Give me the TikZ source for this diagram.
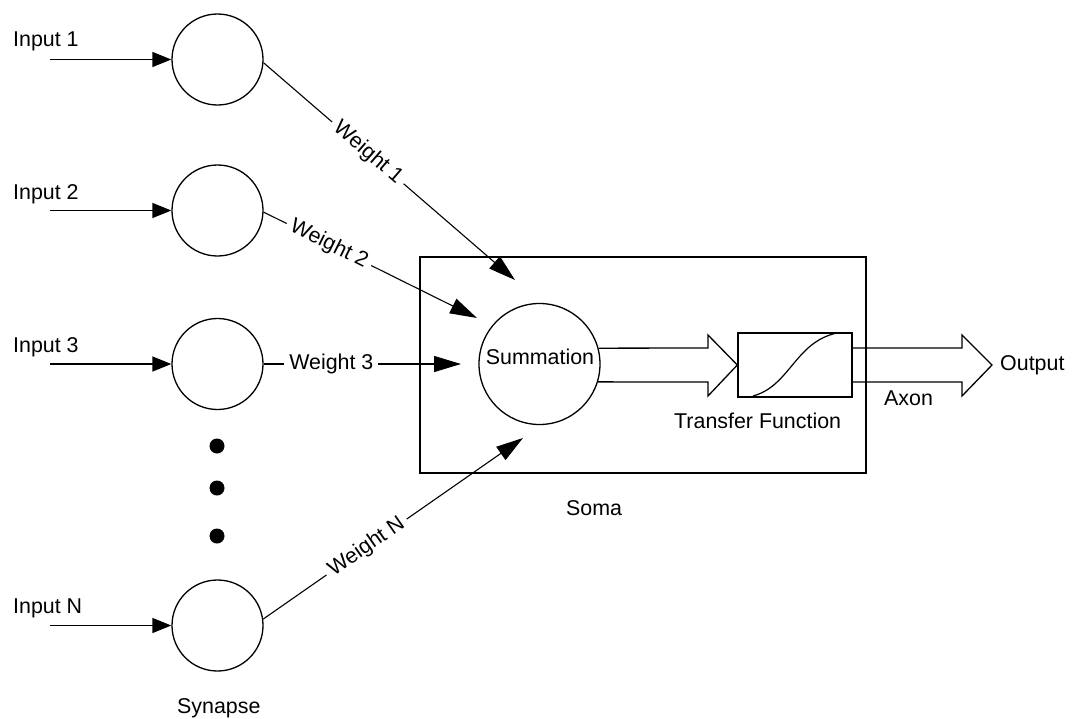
\documentclass[tikz,border=0pt]{standalone}
\usepackage{fontspec}
\setmainfont{Liberation Sans}
\usetikzlibrary{arrows.meta}
\begin{document}
\begin{tikzpicture}[x=1pt,y=-1pt,
  every node/.style={font=\fontsize{21.4}{25}\selectfont},
  syn/.style={circle,draw,line width=1.3pt,minimum size=91pt,inner sep=0pt},
  inarrow/.style={line width=1.3pt,-{Triangle[length=19pt,width=15pt]}},
  warrow/.style={line width=1.1pt,-{Triangle[length=27pt,width=16pt]}},
  wlabel/.style={sloped,fill=white,inner xsep=5pt,inner ysep=2pt},
  lbl/.style={anchor=base west,inner sep=0pt},
  boxline/.style={line width=1.4pt},
  dot/.style={fill=black}]
\useasboundingbox[fill=white] (0,0) rectangle (1074,718);

% synapses
\node[syn] (s1) at (217.5,59.5) {};
\node[syn] (s2) at (217.5,210.5) {};
\node[syn] (s3) at (217.5,364) {};
\node[syn] (sN) at (217.5,625.5) {};

% dots
\fill[dot] (217,446) circle (7.5pt);
\fill[dot] (217,488) circle (7.5pt);
\fill[dot] (217,536) circle (7.5pt);

% input labels
\node[lbl] (l1) at (13,46) {Input 1};
\node[lbl] (l2) at (13,199) {Input 2};
\node[lbl] (l3) at (13,352) {Input 3};
\node[lbl] (lN) at (13,613) {Input N};

% input arrows
\coordinate (i1) at (50,59.5);
\coordinate (i2) at (50,210.5);
\coordinate (i3) at (50,364);
\coordinate (iN) at (50,625.5);
\draw[inarrow] (i1) -- (s1);
\draw[inarrow] (i2) -- (s2);
\draw[inarrow] (i3) -- (s3);
\draw[inarrow] (iN) -- (sN);

% soma
\node[draw,boxline,minimum width=446pt,minimum height=216pt,inner sep=0pt] (soma) at (643,365) {};
\node[circle,draw,line width=1.3pt,minimum size=121pt,inner sep=0pt] (sum) at (539.5,364) {};
\node[anchor=base,inner sep=0pt] (sumtext) at (540,364) {Summation};

% transfer function
\node[draw,boxline,minimum width=114pt,minimum height=64pt,inner sep=0pt] (tf) at (795,365) {};
\draw[line width=1.2pt] (753,396) .. controls (790,386) and (795,342) .. (837,333);

% weights
\coordinate (t1) at (515,280);
\coordinate (t2) at (477,318);
\coordinate (t3) at (461,364);
\coordinate (tN) at (523,438);
\draw[warrow] (s1.-4) -- node[wlabel,pos=0.415] {Weight 1} (t1);
\draw[warrow] (s2.-2) -- node[wlabel,pos=0.306] {Weight 2} (t2);
\draw[warrow] (s3.east) -- node[wlabel,pos=0.343] {Weight 3} (t3);
\draw[warrow] (sN.8) -- node[wlabel,pos=0.398] {Weight N} (tN);

% hollow arrow summation -> transfer
\draw[line width=1.3pt,line join=miter] (sum.15.3) -- (708,348) -- (708,335) -- (tf.west) -- (708,396) -- (708,382) -- (sum.-17.3);

% output arrow
\coordinate (otip) at (992,365);
\draw[line width=1.3pt,line join=miter] (tf.east |- 0,348) -- (962,348) -- (962,335) -- (otip) -- (962,396) -- (962,382) -- (tf.east |- 0,382);

% labels
\node[lbl] (out) at (1000,370) {Output};
\node[lbl] (axon) at (884,405) {Axon};
\node[lbl] (tft) at (674,428) {Transfer Function};
\node[lbl] (somat) at (566,515) {Soma};
\node[lbl] (synt) at (177,713) {Synapse};
\end{tikzpicture}
\end{document}
